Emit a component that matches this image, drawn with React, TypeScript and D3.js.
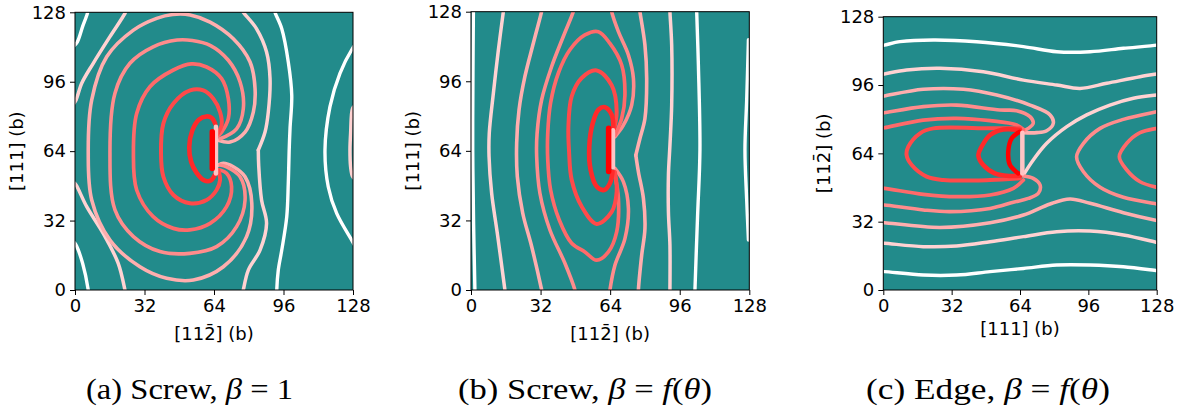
import React, { useEffect, useRef } from "react";
import * as d3 from "d3";

type Pt = [number, number];

// ---- shared axis data ----
const TICKS = [0, 32, 64, 96, 128];
const DOMAIN: [number, number] = [0, 128];
const LEVEL_COLORS = ["#ff0000", "#ff2a2a", "#ff4a4a", "#ff6a6a", "#ff8c8c", "#ffaeae", "#ffd2d2", "#ffffff"];
const CUT_PALE = "#ffc4c4";

// ---- panel (a): screw, beta = 1 ----
const A_cutPale: Pt[] = [[64.9, 53.7], [64.9, 75.2]];
const A_cut: Pt[] = [[63.2, 56.0], [63.2, 72.9]];
const A_L1: Pt[] = [[64.6, 76.5], [63, 79.3], [60.5, 80], [57, 78.5], [54, 73.5], [52.6, 66], [53.5, 59], [56, 54], [59.5, 50.5], [62.5, 50.5], [64.6, 53.5]];
const A_L2: Pt[] = [[65.2, 71.3], [67.5, 76], [66.8, 82], [63.7, 88.2], [59.1, 92], [53, 92], [45.3, 86], [40.7, 76.8], [39.6, 63], [40.7, 52.2], [45.3, 43.8], [52.9, 40], [60.6, 41.5], [65.2, 46.1], [66.8, 50.7], [66, 55.3]];
const A_L3: Pt[] = [[65.2, 70.5], [67.5, 72.8], [70.6, 79], [70.6, 88.2], [67.5, 97.4], [60.6, 102.8], [53.5, 104.2], [45.3, 101.4], [34.5, 93.7], [28.4, 81.4], [26.9, 63], [28.4, 46.1], [36, 33.8], [45.3, 28.4], [52.9, 27.7], [62.2, 30.7], [69.8, 38.4], [72.1, 47.6], [69.8, 53.8], [66.8, 55.3]];
const A_L4: Pt[] = [[66.8, 69.7], [74.4, 74.3], [77.5, 83.6], [76, 95.9], [70.6, 105.9], [62.2, 112.8], [54, 115], [47, 115.2], [36, 112.1], [25.3, 104.5], [18.4, 90.7], [16.1, 63], [18.4, 36.9], [26.9, 24.6], [39.1, 17.7], [52.9, 16.9], [65.2, 20], [74.4, 29.2], [78.3, 41.5], [76, 52.2], [69.8, 56.8], [66.8, 57.6]];
const A_L5: Pt[] = [[66, 69], [71.4, 68.2], [78.3, 72.8], [82.1, 82], [82.9, 92.8], [80.6, 105.1], [72.9, 115.8], [62.2, 123.5], [53, 126.8], [45, 127], [37.6, 125.2], [26.9, 119.8], [14.6, 107.5], [7.7, 87.6], [6.1, 63], [7.7, 41.5], [16.1, 23], [29.9, 10.7], [42.2, 5.4], [54.5, 4.6], [68.3, 10.7], [79, 24.6], [81.4, 40], [78.3, 52.2], [72.9, 56.8], [68.3, 58.4], [66, 57.6]];
const A_L6a: Pt[] = [[23.6, 129], [23, 127.5], [16.1, 116.8], [8.4, 104.5], [3.1, 95.3], [0.5, 87.6], [-0.5, 86]];
const A_L6b: Pt[] = [[-0.5, 49.5], [0.5, 48.4], [5.4, 38.4], [13, 26.1], [19.9, 12.3], [23, 0], [23.2, -1]];
const A_L6c: Pt[] = [[129, 85], [127.8, 83.7], [126.9, 72.2], [126.6, 64.5], [126.9, 56.8], [127.8, 52.3], [129, 51]];
const A_kinkTop: Pt[] = [[77, 129], [77.5, 128], [83.6, 120.4], [88.2, 109.7], [89.8, 97.4], [89, 82], [87.5, 72.8], [84.4, 64.5]];
const A_kinkBot: Pt[] = [[84.4, 64.5], [84.6, 57], [85.9, 41.5], [88.2, 30.7], [85.2, 18.4], [79.8, 9.2], [77.5, 0], [77.3, -1]];
const A_W1: Pt[] = [[5.9, 129], [5.7, 127.5], [3.5, 121.4], [1.1, 114.4], [-0.5, 112.5]];
const A_W2: Pt[] = [[-0.5, 22], [0.5, 20.7], [3.5, 12.3], [6.1, 0], [6.2, -1]];
const A_W3: Pt[] = [[92, 129], [92.1, 128], [95.2, 120.4], [98.2, 105.1], [99.8, 89.7], [99, 74.3], [98.6, 64], [98.2, 49.2], [97.5, 33.8], [95.2, 18.4], [93.6, 9.2], [92.9, 0], [92.9, -1]];
const A_W4: Pt[] = [[129, 113], [127.8, 111.4], [122, 99.9], [117.4, 84.5], [115.1, 64.5], [116.6, 47.6], [120.5, 35.3], [127.4, 23], [128.5, 21]];

// ---- panel (b): screw, beta = f(theta) ----
const B_cutPale: Pt[] = [[65.3, 56.5], [65.3, 73.5]];
const B_cut: Pt[] = [[63.3, 54.5], [63.3, 74.4]];
const B_L1: Pt[] = [[65.5, 74.4], [64.7, 80.6], [61.6, 84.1], [58.6, 82.9], [56, 76.8], [54.4, 66], [55, 55.3], [57.8, 47.6], [61.2, 46], [63.9, 49.1], [65.1, 54.5]];
const B_L2: Pt[] = [[65.5, 72.8], [67, 82], [64.7, 94.2], [57.8, 101], [50.9, 97.5], [46.3, 89], [44.8, 75.2], [45.1, 63.7], [46.3, 50.7], [50.9, 38.4], [57.8, 30.4], [64.7, 35.9], [67, 45.1], [66.2, 54.3]];
const B_L3: Pt[] = [[66.2, 71.2], [69.3, 78.9], [70.8, 89.6], [69.3, 103.5], [63.9, 113.4], [58.6, 118.8], [52.4, 117.3], [45.5, 110.5], [40.2, 99.8], [36.6, 86], [35.3, 72.1], [35.3, 59.9], [36.6, 46.1], [40.6, 32.2], [46.3, 21.5], [52.4, 17.5], [57.8, 13.7], [63.2, 17.5], [67, 26.7], [67.8, 42.1], [66.2, 52.8]];
const B_L4L: Pt[] = [[47.2, 129], [47.1, 128.2], [42.5, 116.7], [37.1, 102.8], [32.5, 87.5], [30.4, 72.1], [30.2, 61.4], [31.7, 44.5], [36.3, 27.6], [43.2, 12.3], [47.8, 0], [48, -1]];
const B_L4Rtop: Pt[] = [[64.6, 129], [64.7, 128], [67.8, 118.8], [72.4, 108.1], [74.7, 97.3], [73.9, 85], [70.1, 75.8], [66.2, 70.5]];
const B_L4Rbot: Pt[] = [[66.2, 55.9], [70.1, 49.7], [72.4, 37.5], [70.8, 23.6], [66.2, 11.4], [63.9, 0], [63.8, -1]];
const B_pinkL: Pt[] = [[32.6, 129], [32.5, 128.2], [28.7, 113.6], [24.8, 98.2], [22.1, 82.9], [21, 67.5], [21.3, 52.2], [23.8, 35.3], [27.9, 20], [32.5, 0], [32.7, -1]];
const B_kinkTop: Pt[] = [[77.6, 129], [77.7, 128], [80, 112.7], [80.8, 97.3], [80, 78.9], [77.7, 69.7], [75.8, 62]];
const B_kinkBot: Pt[] = [[75.8, 62], [77, 54.3], [79.3, 42.1], [80, 28.2], [78.5, 16], [77, 0], [77, -1]];
const B_paleL: Pt[] = [[15, 129], [14.9, 128.2], [12.6, 110.5], [10.3, 90.6], [8.4, 72.1], [8.3, 61.4], [9.5, 44.5], [12.1, 26.1], [15.6, 0], [15.7, -1]];
const B_paleR: Pt[] = [[91.5, 129], [91.5, 128], [92.3, 112.7], [92.3, 85], [91.5, 66.6], [90.8, 52.8], [90.8, 35.9], [91.5, 20.6], [91.5, 0], [91.5, -1]];
const B_W1: Pt[] = [[1.1, 129], [1.1, 128.2], [0.9, 100], [0.8, 64.5], [1.2, 30], [1.8, 0], [1.8, -1]];
const B_W2: Pt[] = [[103.8, 129], [103.8, 128.2], [104.6, 102.8], [105.3, 64.5], [104.2, 33.8], [103, 0], [103, -1]];
const B_W3: Pt[] = [[127.6, 115.1], [126.8, 87.5], [126, 64.5], [126.8, 41.4], [127.6, 23]];

// ---- panel (c): edge, beta = f(theta) ----
const C_W1: Pt[] = [[-1, 114.5], [0.5, 114.7], [7.8, 116.3], [23.4, 117.1], [43.7, 116.3], [65.6, 114], [81.2, 111.6], [96.8, 111.6], [112.4, 113.2], [128, 114.7], [129, 115]];
const C_P2: Pt[] = [[-1, 101], [0.5, 101.2], [10.9, 103], [26.5, 103.8], [46.8, 102.2], [65.6, 98.3], [81.2, 96], [92.1, 94.4], [104.6, 96.8], [120.2, 99.9], [128, 101.2], [129, 101.4]];
const C_L3: Pt[] = [[-1, 90.7], [0.5, 90.9], [18.7, 94], [37.5, 94], [53.1, 91.3], [68.7, 86.6], [78.1, 82], [79.6, 78.1], [76.5, 74.6], [71.8, 73.7], [65.6, 73.7]];
const C_L4: Pt[] = [[-1, 82.8], [0.5, 83], [18.7, 85.9], [34.3, 86.6], [54.6, 84.3], [62.4, 84], [68.7, 81.2], [70.2, 78.1], [67.9, 75.7], [65.6, 74.6]];
const C_L5: Pt[] = [[-1, 75.8], [0.5, 76], [18.7, 79.6], [34.3, 80.4], [50, 79.3], [62.4, 77.3], [65.6, 75.2]];
const C_bullet: Pt[] = [[64, 75.7], [50, 75.7], [23.4, 75.7], [17.2, 73.4], [11.7, 67.1], [10.9, 63.2], [13.3, 58.5], [20.3, 53.1], [28.1, 51.5], [50, 51.5], [64, 52.3]];
const C_inner: Pt[] = [[64, 74.9], [56.2, 75.2], [50, 72.6], [46, 67.1], [44.5, 63.2], [46.8, 58.5], [52.2, 54.6], [57.7, 53.5], [64, 53.5]];
const C_innermost: Pt[] = [[63.7, 74.1], [60.1, 71], [58.5, 64.8], [59.3, 58.5], [63.2, 54.6]];
const C_cut: Pt[] = [[65.1, 73.7], [65.1, 54.6]];
const C_L5b: Pt[] = [[-1, 47.6], [0.5, 47.6], [18.7, 44.8], [34.3, 43.7], [50, 44.5], [60.9, 47.6], [65.6, 51.5]];
const C_L4b: Pt[] = [[-1, 39.8], [0.5, 39.8], [18.7, 37.5], [31.2, 36.7], [50, 38.2], [60.9, 41.1], [67.9, 42.9], [72.6, 45.3], [73.4, 49.2], [70.2, 52.3], [65.6, 53.4]];
const C_L3b: Pt[] = [[-1, 31.5], [0.5, 31.5], [26.5, 29.3], [50, 31.5], [65.6, 35.1], [78.1, 40.3], [87.4, 42.6], [96.8, 40.6], [112.4, 36.2], [128, 32.5], [129, 32.3]];
const C_P2b: Pt[] = [[-1, 21.9], [0.5, 21.9], [18.7, 20.3], [34.3, 20.6], [50, 22.6], [65.6, 25], [81.2, 27.3], [96.8, 27.6], [112.4, 25.8], [128, 22.3], [129, 22.1]];
const C_W1b: Pt[] = [[-1, 8.6], [0.5, 8.6], [18.7, 7], [34.3, 7], [50, 8.6], [65.6, 10.1], [81.2, 11.7], [96.8, 11.7], [112.4, 10.9], [128, 9.1], [129, 9]];
const C_diag: Pt[] = [[65.6, 53.9], [70.2, 60.9], [76.5, 68.7], [85.9, 76.5], [95.2, 82], [106.1, 86.6], [117.1, 89.8], [128, 91.3], [129, 91.4]];
const C_bigV: Pt[] = [[129, 83.7], [128, 83.5], [112.4, 79.9], [101.5, 75.7], [93.7, 68.7], [90.5, 62.4], [93.7, 55.4], [101.5, 48.1], [112.4, 43.4], [128, 40.3], [129, 40.1]];
const C_smallV: Pt[] = [[129, 75.9], [128, 75.7], [120.2, 73.7], [114, 68.7], [110.5, 62.4], [114, 56.2], [120.2, 50.7], [128, 48.1], [129, 47.9]];

interface Curve { pts: Pt[]; level: number; color?: string; width?: number }

const CURVES_A: Curve[] = [
  { pts: A_W1, level: 7 }, { pts: A_W2, level: 7 }, { pts: A_W3, level: 7 }, { pts: A_W4, level: 7 },
  { pts: A_L6a, level: 6 }, { pts: A_L6b, level: 6 }, { pts: A_L6c, level: 6 },
  { pts: A_kinkTop, level: 6 }, { pts: A_kinkBot, level: 6 },
  { pts: A_L5, level: 5 }, { pts: A_L4, level: 4 }, { pts: A_L3, level: 3 }, { pts: A_L2, level: 2 },
  { pts: A_L1, level: 1 },
  { pts: A_cutPale, level: 6, color: CUT_PALE, width: 4.5 },
  { pts: A_cut, level: 0 },
];
const CURVES_B: Curve[] = [
  { pts: B_W1, level: 7 }, { pts: B_W2, level: 7 }, { pts: B_W3, level: 7 },
  { pts: B_paleL, level: 6 }, { pts: B_paleR, level: 6 },
  { pts: B_pinkL, level: 5 }, { pts: B_kinkTop, level: 5 }, { pts: B_kinkBot, level: 5 },
  { pts: B_L4L, level: 4 }, { pts: B_L4Rtop, level: 4 }, { pts: B_L4Rbot, level: 4 },
  { pts: B_L3, level: 3 }, { pts: B_L2, level: 2 }, { pts: B_L1, level: 1 },
  { pts: B_cutPale, level: 6, color: CUT_PALE, width: 4.5 },
  { pts: B_cut, level: 0 },
];
const CURVES_C: Curve[] = [
  { pts: C_W1, level: 7 }, { pts: C_W1b, level: 7 },
  { pts: C_P2, level: 6 }, { pts: C_P2b, level: 6 }, { pts: C_diag, level: 6 },
  { pts: C_L3, level: 5 }, { pts: C_L3b, level: 5 },
  { pts: C_L4, level: 4 }, { pts: C_L4b, level: 4 }, { pts: C_bigV, level: 4 },
  { pts: C_L5, level: 3 }, { pts: C_L5b, level: 3 }, { pts: C_smallV, level: 3 },
  { pts: C_bullet, level: 2 }, { pts: C_inner, level: 1 }, { pts: C_innermost, level: 0, width: 4.5 },
  { pts: C_cut, level: 6, color: CUT_PALE, width: 4.5 },
];

const LEVEL_WIDTH = [5.5, 4.6, 4, 3.7, 3.6, 3.6, 3.5, 3.4];
const TEAL = "#228b8b";
const FONT = "'DejaVu Sans', sans-serif";

interface PanelProps {
  id: string; left: number; right: number; top: number; bottom: number;
  curves: Curve[]; xLabel: React.ReactNode; yLabel: React.ReactNode;
  xLabelY: number; yLabelX: number;
}

function Panel(p: PanelProps) {
  const xs = d3.scaleLinear().domain(DOMAIN).range([p.left, p.right]);
  const ys = d3.scaleLinear().domain(DOMAIN).range([p.bottom, p.top]);
  const gx = useRef<SVGGElement>(null);
  const gy = useRef<SVGGElement>(null);
  useEffect(() => {
    const style = (g: d3.Selection<SVGGElement, unknown, null, undefined>) => {
      g.select(".domain").remove();
      g.attr("font-size", null).attr("font-family", null);
      g.selectAll("text").attr("font-size", 18).attr("font-family", FONT).attr("fill", "#000");
      g.selectAll("line").attr("stroke", "#000").attr("stroke-width", 1);
    };
    if (gx.current) {
      const g = d3.select(gx.current);
      g.call(d3.axisBottom(xs).tickValues(TICKS).tickSize(5).tickPadding(4).tickFormat(d3.format("d")));
      style(g);
    }
    if (gy.current) {
      const g = d3.select(gy.current);
      g.call(d3.axisLeft(ys).tickValues(TICKS).tickSize(5).tickPadding(4).tickFormat(d3.format("d")));
      style(g);
    }
  });
  const line = d3.line<Pt>().x(d => xs(d[0])).y(d => ys(d[1])).curve(d3.curveCatmullRom.alpha(0.5));
  const w = p.right - p.left, h = p.bottom - p.top;
  return (
    <g>
      <defs>
        <clipPath id={p.id}><rect x={p.left} y={p.top} width={w} height={h} /></clipPath>
      </defs>
      <rect x={p.left} y={p.top} width={w} height={h} fill={TEAL} />
      <g clipPath={`url(#${p.id})`}>
        {p.curves.map((c, i) => (
          <path key={i} d={line(c.pts) || ""} fill="none"
            stroke={c.color ?? LEVEL_COLORS[c.level]}
            strokeWidth={c.width ?? LEVEL_WIDTH[c.level]}
            strokeLinecap="round" strokeLinejoin="round" />
        ))}
      </g>
      <rect x={p.left} y={p.top} width={w} height={h} fill="none" stroke="#000" strokeWidth={1} />
      <g ref={gx} transform={`translate(0,${p.bottom})`} />
      <g ref={gy} transform={`translate(${p.left},0)`} />
      <text x={(p.left + p.right) / 2} y={p.xLabelY} textAnchor="middle" fontSize={18} fontFamily={FONT}>{p.xLabel}</text>
      <text transform={`translate(${p.yLabelX},${(p.top + p.bottom) / 2}) rotate(-90)`} textAnchor="middle" fontSize={18} fontFamily={FONT}>{p.yLabel}</text>
    </g>
  );
}

const LBL_112 = "[112\u0304] (b)";
const LBL_111 = "[111] (b)";
const SERIF = "'Liberation Serif', 'Times New Roman', serif";

function Caption({ x, width, children }: { x: number; width: number; children: React.ReactNode }) {
  return (
    <text x={x} y={399} fontSize={29} fontFamily={SERIF} textLength={width} lengthAdjust="spacingAndGlyphs">{children}</text>
  );
}

export default function App() {
  return (
    <svg width={1181} height={407} style={{ position: "absolute", left: 0, top: 0, background: "#fff" }}>
      <Panel id="clipA" left={75} right={353} top={12.3} bottom={290} curves={CURVES_A}
        xLabel={LBL_112} yLabel={LBL_111} xLabelY={340} yLabelX={22.5} />
      <Panel id="clipB" left={471} right={749.3} top={11.7} bottom={290} curves={CURVES_B}
        xLabel={LBL_112} yLabel={LBL_111} xLabelY={340} yLabelX={419} />
      <Panel id="clipC" left={883.3} right={1156.7} top={16.7} bottom={290} curves={CURVES_C}
        xLabel={LBL_111} yLabel={LBL_112} xLabelY={334.5} yLabelX={829.5} />
      <Caption x={86} width={207}>(a) Screw, <tspan fontStyle="italic">β</tspan> = 1</Caption>
      <Caption x={458} width={254}>(b) Screw, <tspan fontStyle="italic">β</tspan> = <tspan fontStyle="italic">f</tspan>(<tspan fontStyle="italic">θ</tspan>)</Caption>
      <Caption x={866} width={244}>(c) Edge, <tspan fontStyle="italic">β</tspan> = <tspan fontStyle="italic">f</tspan>(<tspan fontStyle="italic">θ</tspan>)</Caption>
    </svg>
  );
}
